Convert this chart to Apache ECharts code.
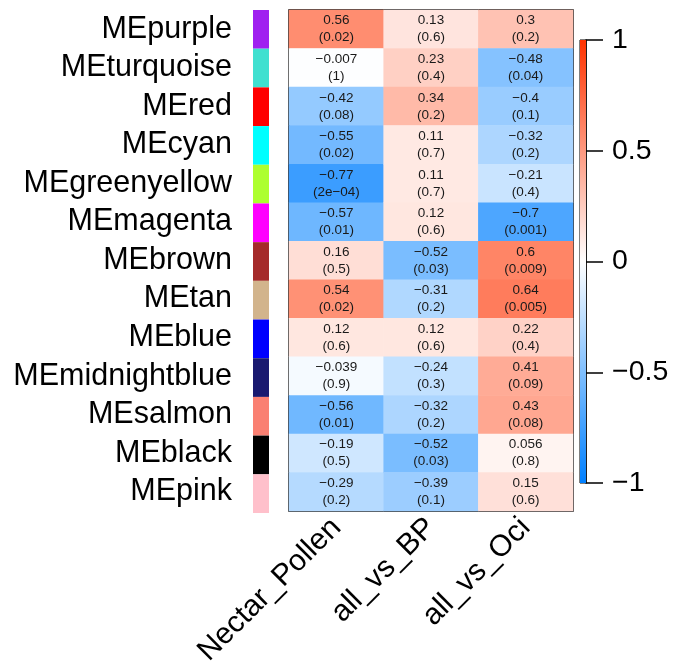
<!DOCTYPE html>
<html>
<head>
<meta charset="utf-8">
<script src="https://cdn.jsdelivr.net/npm/echarts@6/dist/echarts.min.js"></script>
<style>
  html, body { margin: 0; padding: 0; background: #fff; }
  #chart { width: 674px; height: 669px; }
</style>
</head>
<body>
<div id="chart"></div>
<script>
// Module eigengene names (rows, top to bottom) and their module colours
const modules = ['MEpurple', 'MEturquoise', 'MEred', 'MEcyan', 'MEgreenyellow', 'MEmagenta',
  'MEbrown', 'MEtan', 'MEblue', 'MEmidnightblue', 'MEsalmon', 'MEblack', 'MEpink'];
const moduleColors = ['#A020F0', '#40E0D0', '#FF0000', '#00FFFF', '#ADFF2F', '#FF00FF',
  '#A52A2A', '#D2B48C', '#0000FF', '#191970', '#FA8072', '#000000', '#FFC0CB'];

// Traits (columns)
const traits = ['Nectar_Pollen', 'all_vs_BP', 'all_vs_Oci'];

// Correlations per trait, in module order
const corNectarPollen = [0.56, -0.007, -0.42, -0.55, -0.77, -0.57, 0.16, 0.54, 0.12, -0.039, -0.56, -0.19, -0.29];
const corAllVsBP      = [0.13, 0.23, 0.34, 0.11, 0.11, 0.12, -0.52, -0.31, 0.12, -0.24, -0.32, -0.52, -0.39];
const corAllVsOci     = [0.3, -0.48, -0.4, -0.32, -0.21, -0.7, 0.6, 0.64, 0.22, 0.41, 0.43, 0.056, 0.15];

// P-values per trait, as printed
const pNectarPollen = ['0.02', '1', '0.08', '0.02', '2e-04', '0.01', '0.5', '0.02', '0.6', '0.9', '0.01', '0.5', '0.2'];
const pAllVsBP      = ['0.6', '0.4', '0.2', '0.7', '0.7', '0.6', '0.03', '0.2', '0.6', '0.3', '0.2', '0.03', '0.1'];
const pAllVsOci     = ['0.2', '0.04', '0.1', '0.2', '0.4', '0.001', '0.009', '0.005', '0.4', '0.09', '0.08', '0.8', '0.6'];

// Colour-scale ticks
const scaleTicks = [-1, -0.5, 0, 0.5, 1];

const corByTrait = [corNectarPollen, corAllVsBP, corAllVsOci];
const pByTrait = [pNectarPollen, pAllVsBP, pAllVsOci];

const minus = s => String(s).replace(/-/g, '\u2212');

const cells = [];
corByTrait.forEach((col, ci) => {
  col.forEach((v, ri) => {
    cells.push({ value: [ci, ri, v], p: pByTrait[ci][ri] });
  });
});

const rampColors = ['#0080FF', '#FFFFFF', '#FF3300'];
const FONT = '"Liberation Sans", Arial, Helvetica, sans-serif';

const heat = { left: 289, top: 10, width: 284, height: 503 };
const bar = { left: 580, top: 40, width: 6, height: 443 };

const chart = echarts.init(document.getElementById('chart'));
chart.setOption({
  animation: false,
  backgroundColor: '#fff',
  textStyle: { fontFamily: FONT },
  grid: [
    Object.assign({ show: true, borderColor: '#000', borderWidth: 1.5, backgroundColor: 'transparent' }, heat),
    { left: 253, top: 10, width: 16, height: 503 },
    Object.assign({ show: true, borderColor: '#000', borderWidth: 1, backgroundColor: 'transparent' }, bar)
  ],
  xAxis: [
    {
      gridIndex: 0, type: 'category', data: traits,
      axisLine: { show: false }, axisTick: { show: false }, splitLine: { show: false },
      axisLabel: { rotate: 45, fontSize: 30, color: '#000', margin: 12, fontFamily: FONT, interval: 0 }
    },
    { gridIndex: 1, type: 'value', min: 0, max: 1, show: false },
    { gridIndex: 2, type: 'category', data: ['s'], show: false }
  ],
  yAxis: [
    {
      gridIndex: 0, type: 'category', data: modules, inverse: true,
      axisLine: { show: false }, axisTick: { show: false }, splitLine: { show: false },
      axisLabel: { fontSize: 30.5, color: '#000', margin: 57, fontFamily: FONT, interval: 0 }
    },
    { gridIndex: 1, type: 'category', data: modules, inverse: true, show: false },
    {
      gridIndex: 2, type: 'value', min: -1, max: 1, interval: 0.5, position: 'right',
      axisLine: { show: true, lineStyle: { color: '#000', width: 1.5 } },
      axisTick: { show: true, length: 17, lineStyle: { color: '#000', width: 1.5 } },
      splitLine: { show: false },
      axisLabel: { fontSize: 28.5, color: '#000', margin: 26, fontFamily: FONT, formatter: v => minus(v) }
    }
  ],
  visualMap: {
    show: false, type: 'continuous', min: -1, max: 1, seriesIndex: 0, dimension: 2,
    inRange: { color: rampColors }
  },
  series: [
    {
      type: 'heatmap', xAxisIndex: 0, yAxisIndex: 0, data: cells,
      itemStyle: { borderWidth: 0 },
      label: {
        show: true, fontSize: 13.5, lineHeight: 17, color: '#1a1a1a', fontFamily: FONT,
        formatter: p => minus(p.data.value[2]) + '\n(' + minus(p.data.p) + ')'
      }
    },
    {
      type: 'bar', xAxisIndex: 1, yAxisIndex: 1, barWidth: '100%', barCategoryGap: 0,
      data: moduleColors.map(c => ({ value: 1, itemStyle: { color: c } })),
      silent: true
    },
    {
      type: 'custom', xAxisIndex: 2, yAxisIndex: 2, data: [[0, 1]],
      renderItem: (params, api) => {
        const top = api.coord([0, scaleTicks[scaleTicks.length - 1]]);
        const bottom = api.coord([0, scaleTicks[0]]);
        const w = api.size([1, 0])[0];
        return {
          type: 'rect',
          shape: { x: top[0] - w / 2, y: top[1], width: w, height: bottom[1] - top[1] },
          style: {
            fill: new echarts.graphic.LinearGradient(0, 0, 0, 1, [
              { offset: 0, color: rampColors[2] },
              { offset: 0.5, color: rampColors[1] },
              { offset: 1, color: rampColors[0] }
            ])
          },
          z2: -1
        };
      },
      silent: true
    }
  ]
});
</script>
</body>
</html>
